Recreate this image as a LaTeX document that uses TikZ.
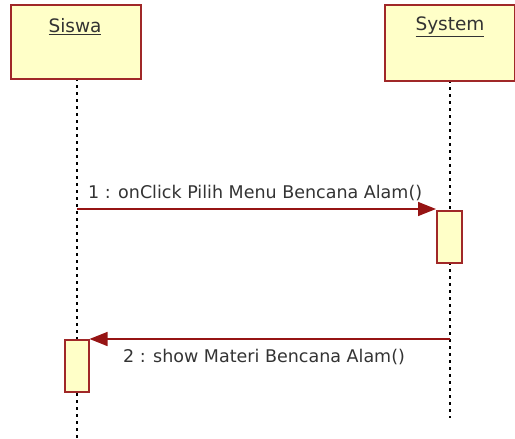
\documentclass[tikz,border=0pt]{standalone}
\usepackage{fontspec}
\setmainfont{DejaVu Sans}
\usetikzlibrary{arrows.meta}
\definecolor{boxfill}{RGB}{255,255,200}
\definecolor{boxline}{RGB}{160,40,40}
\definecolor{msgline}{RGB}{150,20,20}
\tikzset{
  obj/.style={draw=boxline, fill=boxfill, line width=2pt},
  act/.style={draw=boxline, fill=boxfill, line width=1.5pt},
  life/.style={draw=black, line width=2pt, dash pattern=on 3pt off 4pt},
  msg/.style={draw=msgline, line width=1.5pt, -{Triangle[length=18pt,width=14pt]}},
  lbl/.style={font=\fontsize{17.5}{20}\selectfont, text=black!80, inner sep=0pt},
  ttl/.style={font=\fontsize{18.5}{21}\selectfont, text=black!80, inner sep=0pt},
}
\begin{document}
\begin{tikzpicture}[x=1pt,y=-1pt]
\useasboundingbox (0,0) rectangle (515,439);
% lifelines
\coordinate (sl1) at (77,78);
\coordinate (sl2) at (77,439);
\coordinate (yl1) at (450,80);
\coordinate (yl2) at (450,418);
\draw[life] (sl1) -- (sl2);
\draw[life] (yl1) -- (yl2);
% objects
\node[obj, minimum width=130pt, minimum height=74pt, anchor=north west] (siswa) at (10,4) {};
\node[ttl] (siswat) at (75,27) {\underline{Siswa}};
\node[obj, minimum width=130pt, minimum height=76pt, anchor=north west] (system) at (384,4) {};
\node[ttl] (systemt) at (450,27) {\underline{System}};
% activations
\node[act, minimum width=25pt, minimum height=52pt, anchor=north west] (a1) at (436,210) {};
\node[act, minimum width=24pt, minimum height=52pt, anchor=north west] (a2) at (64,339) {};
% messages
\coordinate (m1s) at (77,209);
\coordinate (m2s) at (450,339);
\draw[msg] (m1s) -- (m1s -| a1.west);
\draw[msg] (m2s) -- (m2s -| a2.east);
\node[lbl, anchor=west] (l1) at (88,193) {1 : onClick Pilih Menu Bencana Alam()};
\node[lbl, anchor=west] (l2) at (123,357) {2 : show Materi Bencana Alam()};
\end{tikzpicture}
\end{document}
